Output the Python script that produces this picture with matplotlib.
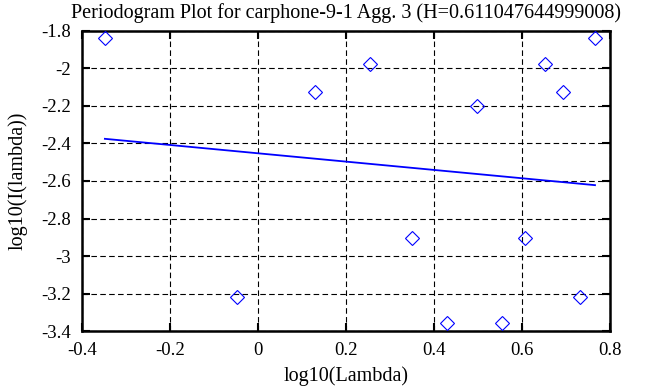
import matplotlib.pyplot as plt
import numpy as np
from matplotlib.ticker import FormatStrFormatter, MultipleLocator

plt.rcParams['font.family'] = ['Liberation Serif', 'DejaVu Serif']
plt.rcParams['axes.unicode_minus'] = False

# periodogram points, log10 of frequency vs log10 of intensity
logLambda = [-0.348, -0.047, 0.129, 0.254, 0.351, 0.430, 0.497,
             0.555, 0.606, 0.652, 0.694, 0.731, 0.766]
logI = [-1.840, -3.220, -2.127, -1.978, -2.904, -3.356, -2.198,
        -3.356, -2.904, -1.978, -2.127, -3.220, -1.840]
H = 0.611047644999008

fig = plt.figure(figsize=(6.63, 3.87), dpi=100)
ax = fig.add_axes([0.1237, 0.1447, 0.7963, 0.7752])

# least squares fit through the points
slope, intercept = np.polyfit(logLambda, logI, 1)
xfit = np.array([logLambda[0], logLambda[-1]])
ax.plot(xfit, intercept + slope * xfit, color='#0000ff', lw=1.3, zorder=3)

ax.plot(logLambda, logI, linestyle='none', marker='D', markersize=7,
        markerfacecolor='none', markeredgecolor='#0000ff', markeredgewidth=0.8, zorder=4)

ax.set_xlim(-0.4, 0.8)
ax.set_ylim(-3.4, -1.8)
ax.xaxis.set_major_locator(MultipleLocator(0.2))
ax.yaxis.set_major_locator(MultipleLocator(0.2))
ax.xaxis.set_major_formatter(FormatStrFormatter('%g'))
ax.yaxis.set_major_formatter(FormatStrFormatter('%g'))

ax.grid(True, color='black', linestyle=(0, (5, 3)), linewidth=0.8)
ax.tick_params(direction='in', length=6, width=1.5, top=True, right=True,
               labelsize=13.5, pad=8)
for s in ax.spines.values():
    s.set_linewidth(1.8)

ax.set_title('Periodogram Plot for carphone-9-1 Agg. 3 (H=%s)' % repr(H),
             fontsize=14.5, pad=9)
ax.set_xlabel('log10(Lambda)', fontsize=14.5, labelpad=5)
ax.set_ylabel('log10(I(lambda))', fontsize=14.5, labelpad=10)

fig.savefig('out.png', dpi=100)
